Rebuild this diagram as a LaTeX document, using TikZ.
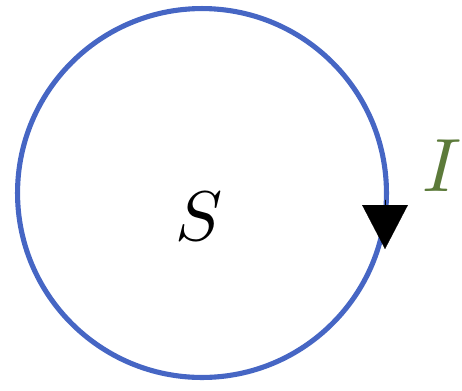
\documentclass[tikz,border=0pt]{standalone}
\usepackage{amsmath,amssymb}
\usepackage{tikz}
\usetikzlibrary{arrows.meta}
\usepackage{xcolor}
\definecolor{loopblue}{RGB}{70,102,196}
\definecolor{labelgreen}{RGB}{92,122,58}

\begin{document}
\begin{tikzpicture}[x=0.02cm,y=-0.02cm,line cap=round]
\useasboundingbox (0,0) rectangle (462,390);
\node[draw=loopblue,line width=2.9pt,circle,minimum size=7.38cm,inner sep=0pt] (loop) at (202,193) {};
\node[scale=4] (area) at (199,216) {$S$};
\node[scale=4.3,text=labelgreen] (cur) at (442,166) {$I$};
\coordinate (tail) at (385,200);
\coordinate (head) at (385,249);
\draw[-{Triangle[length=25pt,width=26pt]},line width=0.1pt] (tail) -- (head);
\end{tikzpicture}
\end{document}
